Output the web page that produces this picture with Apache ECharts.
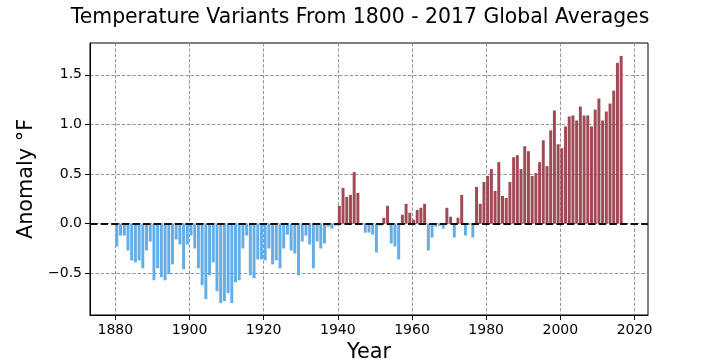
<!DOCTYPE html>
<html><head><meta charset="utf-8">
<script src="https://cdn.jsdelivr.net/npm/echarts@6/dist/echarts.min.js"></script>
<style>html,body{margin:0;padding:0;background:#fff}#c{width:720px;height:360px}</style>
</head><body><div id="c"></div>
<script>
const titleText = 'Temperature Variants From 1800 - 2017 Global Averages';
const xAxisName = 'Year';
const yAxisName = 'Anomaly °F';
const startYear = 1880;
const anomalies = [
  -0.23, -0.12, -0.12, -0.27, -0.37, -0.39, -0.37, -0.45, -0.27, -0.18,
  -0.57, -0.45, -0.54, -0.57, -0.51, -0.41, -0.16, -0.21, -0.46, -0.21,
  -0.12, -0.25, -0.45, -0.62, -0.76, -0.52, -0.39, -0.68, -0.80, -0.78,
  -0.70, -0.80, -0.59, -0.57, -0.25, -0.12, -0.52, -0.55, -0.36, -0.36,
  -0.37, -0.25, -0.41, -0.37, -0.45, -0.25, -0.11, -0.27, -0.30, -0.52,
  -0.18, -0.12, -0.21, -0.45, -0.18, -0.25, -0.20, -0.03, -0.05, -0.02,
   0.18,  0.36,  0.27,  0.29,  0.52,  0.31, -0.01, -0.09, -0.09, -0.11,
  -0.29, -0.02,  0.06,  0.18, -0.20, -0.23, -0.36,  0.09,  0.20,  0.11,
   0.04,  0.14,  0.16,  0.20, -0.27, -0.14, -0.03, -0.02, -0.05,  0.16,
   0.07, -0.14,  0.06,  0.29, -0.12, -0.01, -0.14,  0.37,  0.20,  0.42,
   0.48,  0.55,  0.33,  0.62,  0.28,  0.26,  0.42,  0.67,  0.69,  0.55,
   0.78,  0.73,  0.48,  0.51,  0.62,  0.84,  0.58,  0.94,  1.14,  0.80,
   0.76,  0.98,  1.08,  1.09,  1.04,  1.18,  1.09,  1.09,  0.98,  1.15,
   1.26,  1.04,  1.13,  1.21,  1.34,  1.62,  1.69
];
const years = anomalies.map((_, i) => startYear + i);
const xTickValues = [1880, 1900, 1920, 1940, 1960, 1980, 2000, 2020];
const yTickValues = [-0.5, 0.0, 0.5, 1.0, 1.5];

// layout / style
const gridL = 90, gridR = 72, gridT = 43, gridB = 45;
const xMin = 1873.16, xMax = 2023.64;
const yMin = -0.92, yMax = 1.82;
const barFrac = 0.8;
const posColor = '#a04a55';
const negColor = '#63aee9';
const font = 'DejaVu Sans';

const pxPerYear = (720 - gridL - gridR) / (xMax - xMin);
const barPx = pxPerYear * barFrac;

const chart = echarts.init(document.getElementById('c'), null, {renderer: 'canvas'});
const gridLine = {show: true, lineStyle: {color: '#8a8a8a', width: 0.9, type: [3.5, 1.8]}};
chart.setOption({
  animation: false,
  backgroundColor: '#fff',
  title: {
    text: titleText, left: 'center', top: 3,
    textStyle: {fontFamily: font, fontSize: 20.4, fontWeight: 'normal', color: '#000'}
  },
  grid: {left: gridL, right: gridR, top: gridT, bottom: gridB, show: true,
         borderColor: '#000', borderWidth: 1, backgroundColor: 'transparent',
         containLabel: false, outerBoundsMode: 'none'},
  xAxis: {
    type: 'value', min: xMin, max: xMax,
    name: xAxisName, nameLocation: 'middle', nameGap: 24,
    nameTextStyle: {fontFamily: font, fontSize: 20.8, color: '#000'},
    axisLine: {show: true, onZero: false, lineStyle: {color: '#000', width: 1}},
    axisTick: {show: true, inside: false, length: 5, customValues: xTickValues, lineStyle: {color: '#000'}},
    axisLabel: {customValues: xTickValues, margin: 8, fontFamily: font, fontSize: 14, color: '#000',
      formatter: v => String(v)},
    splitLine: gridLine
  },
  yAxis: {
    type: 'value', min: yMin, max: yMax,
    name: yAxisName, nameLocation: 'middle', nameGap: 48, nameRotate: 90,
    nameTextStyle: {fontFamily: font, fontSize: 20.8, color: '#000'},
    axisLine: {show: true, onZero: false, lineStyle: {color: '#000', width: 1}},
    axisTick: {show: true, inside: false, length: 5, customValues: yTickValues, lineStyle: {color: '#000'}},
    axisLabel: {customValues: yTickValues, margin: 8, fontFamily: font, fontSize: 14, color: '#000',
      formatter: v => v.toFixed(1).replace('-', '\u2212')},
    splitLine: gridLine
  },
  series: [{
    type: 'bar',
    barWidth: barPx,
    data: years.map((y, i) => [y + barFrac / 2, anomalies[i]]),
    itemStyle: {color: p => (p.value[1] >= 0 ? posColor : negColor)},
    markLine: {
      silent: true, symbol: 'none', z: 10,
      label: {show: false},
      lineStyle: {color: '#111', width: 2, type: [7.4, 3.2]},
      data: [{yAxis: 0}]
    }
  }]
});
</script>
</body></html>
